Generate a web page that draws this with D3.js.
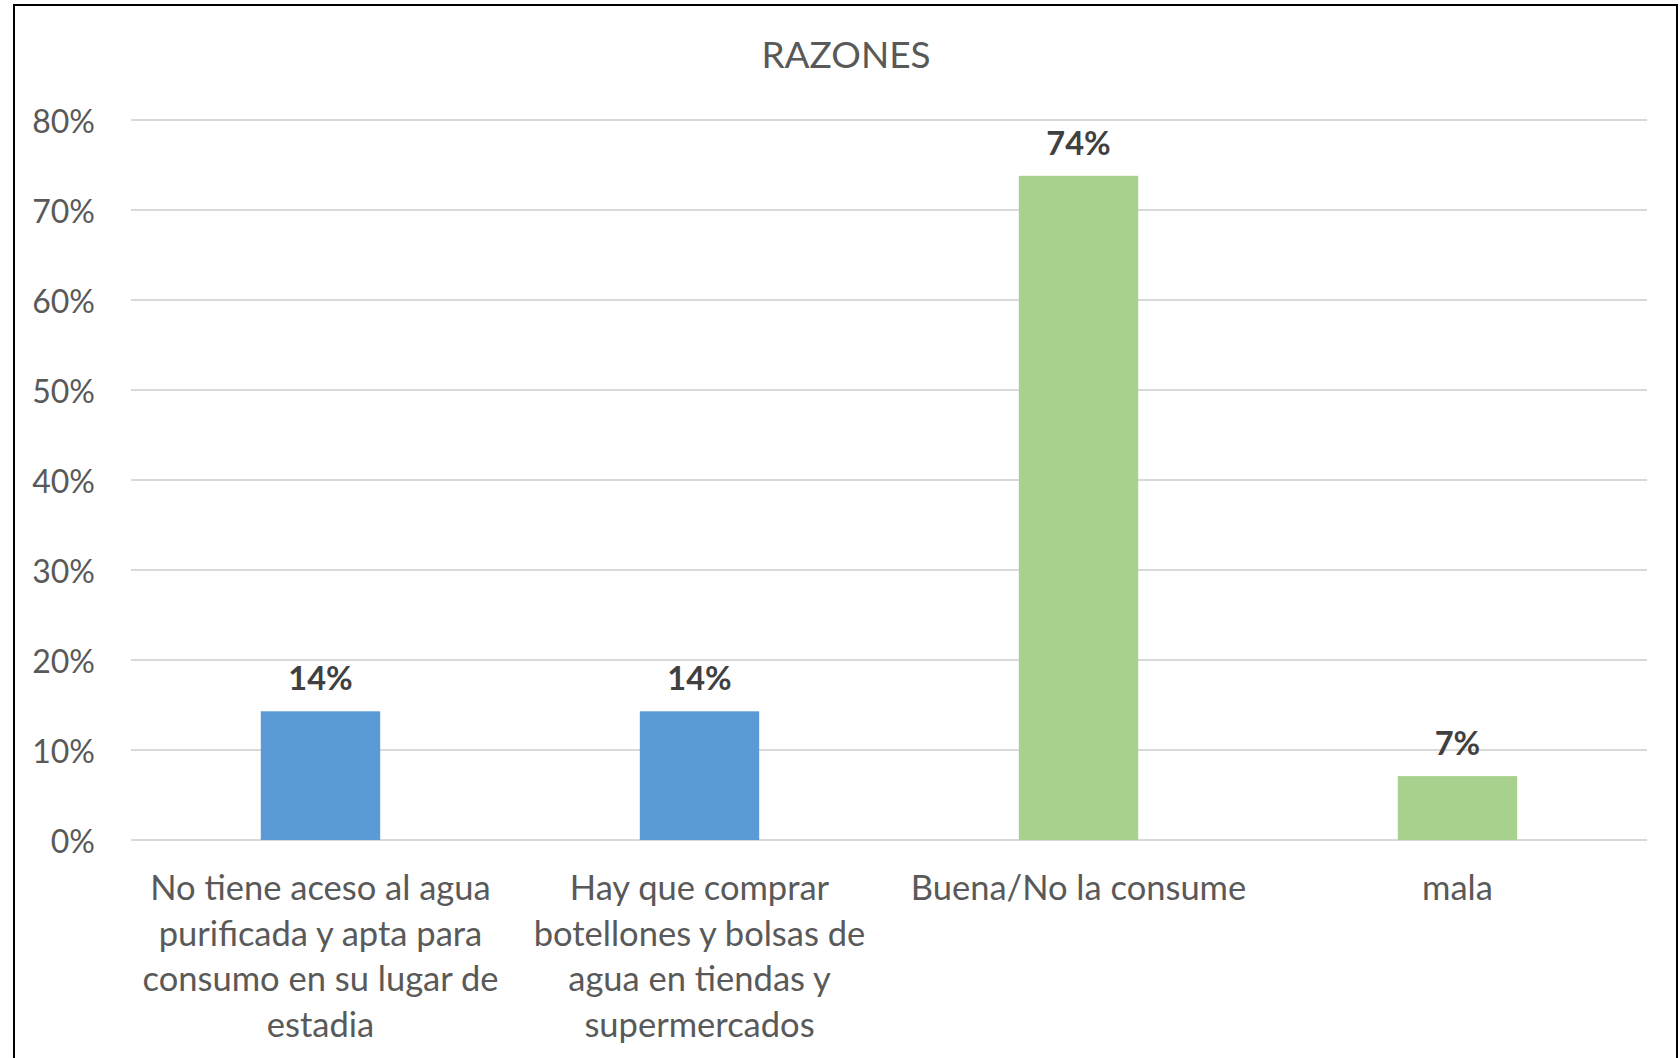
<!DOCTYPE html>
<html>
<head>
<meta charset="utf-8">
<script src="https://cdn.jsdelivr.net/npm/d3@7"></script>
<style>
  body { margin: 0; background: #fff; }
  svg { display: block; }
</style>
</head>
<body>
<svg id="chart" width="1680" height="1058"></svg>
<script>
// data
var title = "RAZONES";
var categories = [
    "No tiene aceso al agua purificada y apta para consumo en su lugar de estadia",
    "Hay que comprar botellones y bolsas de agua en tiendas y supermercados",
    "Buena/No la consume",
    "mala"
];
var labelLines = [
    ["No tiene aceso al agua", "purificada y apta para", "consumo en su lugar de", "estadia"],
    ["Hay que comprar", "botellones y bolsas de", "agua en tiendas y", "supermercados"],
    ["Buena/No la consume"],
    ["mala"]
];
var values = [0.143, 0.143, 0.738, 0.071];
var barColors = ["#5b9bd5", "#5b9bd5", "#a9d18e", "#a9d18e"];
var yTicks = [0, 0.1, 0.2, 0.3, 0.4, 0.5, 0.6, 0.7, 0.8];

var svg = d3.select("#chart"),
    font = "Lato, 'Open Sans', sans-serif",
    plotL = 131, plotR = 1647, plotT = 120, plotB = 840;

// frame
svg.append("rect")
   .attr("x", 14).attr("y", 5)
   .attr("width", 1663).attr("height", 1070)
   .attr("fill", "#fff")
   .attr("stroke", "#000")
   .attr("stroke-width", 2);

var x = d3.scaleBand()
          .domain(categories)
          .range([plotL, plotR])
          .padding(0);

var y = d3.scaleLinear()
          .domain([0, 0.8])
          .range([plotB, plotT]);

// gridlines
svg.append("g")
   .selectAll("line")
   .data(yTicks)
   .join("line")
   .attr("x1", plotL).attr("x2", plotR)
   .attr("y1", function(d){ return y(d); })
   .attr("y2", function(d){ return y(d); })
   .attr("stroke", "#d9d9d9")
   .attr("stroke-width", 2);

// y axis labels
var yAxis = svg.append("g")
   .attr("transform", "translate(" + (plotL - 36) + ",0)")
   .call(d3.axisLeft(y).tickValues(yTicks).tickFormat(d3.format(".0%")).tickSize(0));
yAxis.select(".domain").remove();
yAxis.selectAll("text")
     .attr("x", 0)
     .attr("dy", "0.4em")
     .attr("font-family", font)
     .attr("font-size", 32)
     .attr("fill", "#595959");

// bars
var barW = x.bandwidth() * 0.315;
svg.append("g")
   .selectAll("rect")
   .data(values)
   .join("rect")
   .attr("x", function(d, i){ return x(categories[i]) + x.bandwidth() / 2 - barW / 2; })
   .attr("y", function(d){ return y(d); })
   .attr("width", barW)
   .attr("height", function(d){ return y(0) - y(d); })
   .attr("fill", function(d, i){ return barColors[i]; });

// data labels
svg.append("g")
   .selectAll("text")
   .data(values)
   .join("text")
   .attr("x", function(d, i){ return x(categories[i]) + x.bandwidth() / 2; })
   .attr("y", function(d){ return y(d) - 21; })
   .attr("text-anchor", "middle")
   .attr("font-family", font)
   .attr("font-size", 32.5)
   .attr("font-weight", "bold")
   .attr("fill", "#404040")
   .text(function(d){ return d3.format(".0%")(d); });

// category labels
var cat = svg.append("g")
   .selectAll("text")
   .data(categories)
   .join("text")
   .attr("x", function(d){ return x(d) + x.bandwidth() / 2; })
   .attr("y", 900)
   .attr("text-anchor", "middle")
   .attr("font-family", font)
   .attr("font-size", 34.5)
   .attr("fill", "#595959");
cat.selectAll("tspan")
   .data(function(d, i){ return labelLines[i]; })
   .join("tspan")
   .attr("x", function(){ return this.parentNode.getAttribute("x"); })
   .attr("dy", function(d, i){ return i == 0 ? 0 : 45.5; })
   .text(function(d){ return d; });

// title
svg.append("text")
   .attr("x", 846).attr("y", 68)
   .attr("text-anchor", "middle")
   .attr("font-family", font)
   .attr("font-size", 37)
   .attr("fill", "#595959")
   .text(title);
</script>
</body>
</html>
